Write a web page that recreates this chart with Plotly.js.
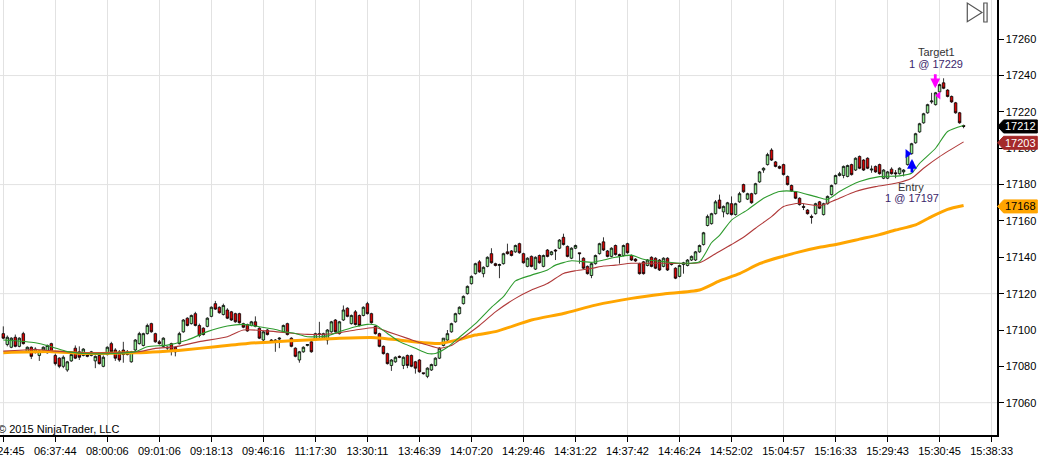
<!DOCTYPE html>
<html><head><meta charset="utf-8">
<script src="https://cdn.plot.ly/plotly-3.0.1.min.js"></script>
<style>html,body{margin:0;padding:0;background:#fff;overflow:hidden}#chart{width:1041px;height:459px}</style>
</head><body><div id="chart"></div>
<script>
// ---- Candles (bar index = position in arrays) ----
const opens = [17098,17092,17090.5,17096,17091,17098,17088,17090.5,17088,17086,
17089,17087.5,17092.5,17086,17084.5,17080,17078,17083,17090,17088,
17086,17086.5,17086,17083,17086,17080,17086.5,17092.5,17089,17088,
17089,17088,17082.5,17089,17092.5,17091.5,17098,17103.5,17098,17093.5,
17091,17090,17092.5,17090.5,17092.5,17099,17106.5,17103.5,17109,17102.5,
17101,17102,17107.5,17114.5,17112.5,17108.5,17111,17110,17109,17109,
17103.5,17103,17102.5,17104.5,17101,17094.5,17100,17094.5,17094.5,17095,
17099,17103.5,17095.5,17090,17083.5,17088,17091.5,17093.5,17094.5,17098,
17095.5,17094.5,17099,17105.5,17098,17105.5,17112,17103.5,17110,17108,
17108,17114.5,17109,17102,17098,17091,17087,17080.5,17082.5,17085.5,
17080.5,17086,17086,17082.5,17083.5,17076.5,17074.5,17078,17080.5,17084.5,
17091.5,17094.5,17099,17104.5,17109,17114.5,17120,17125.5,17131,17137.5,
17131,17135,17142,17136.5,17135.5,17136.5,17143,17143.5,17143,17147.5,
17142,17135,17140.5,17133.5,17141,17135,17144,17141.5,17144,17145,
17151,17146,17139.5,17145,17142.5,17139.5,17135,17130,17136.5,17142,
17148.5,17143.5,17140.5,17146.5,17141.5,17141,17147.5,17141,17139,17136.5,
17137.5,17135.5,17140,17139.5,17138.5,17135,17139.5,17136,17134,17129.5,
17136,17135.5,17138.5,17138.5,17143,17147,17157.5,17158.5,17164,17171.5,
17165,17164,17169.5,17163.5,17170.5,17180,17172,17175,17175,17181.5,
17188,17191,17199,17192.5,17190,17191,17184.5,17179.5,17176,17172.5,
17168,17166,17162.5,17164,17170.5,17163.5,17169.5,17174.5,17180.5,17185,
17185,17184.5,17191,17188,17195.5,17193.5,17194.5,17188,17190,17191,
17183.5,17183.5,17188.5,17186.5,17186,17187,17191,17197,17203,17209,
17214,17219.5,17225.5,17224,17231,17236,17232,17228.5,17225,17219.5,
17212.5];
const highs = [17102,17097,17096,17097.5,17096,17099,17091,17091,17090.5,17089,
17091,17092,17093,17087,17085,17086,17083,17087,17091.5,17091,
17090,17087,17088.5,17086,17087,17086,17091,17093.5,17090,17089,
17093.5,17089,17088.5,17095,17099,17098.5,17103.5,17104,17098.5,17094.5,
17096,17091,17093,17091,17099,17106,17107,17108.5,17110,17103.5,
17101.5,17107,17113,17116,17113,17114.5,17112,17110.5,17109.5,17109.5,
17104,17103.5,17105,17107.5,17101.5,17099.5,17100.5,17095,17095,17096,
17103,17104,17096,17090.5,17088.5,17091,17092,17094,17098.5,17104.5,
17098.5,17100.5,17105,17106,17105,17113.5,17112.5,17108.5,17111,17108.5,
17113,17115.5,17109.5,17102.5,17098.5,17091.5,17087.5,17084,17085.5,17086,
17085.5,17086.5,17086.5,17083,17084,17076.5,17079.5,17081.5,17085,17090.5,
17095.5,17100,17104,17109.5,17113,17119,17124.5,17130,17137,17138.5,
17135,17140.5,17145,17137,17136.5,17142.5,17147.5,17144,17147,17148,
17142.5,17140,17141,17140.5,17141.5,17141.5,17144.5,17143.5,17144.5,17150,
17153,17146.5,17145.5,17147,17142.5,17140,17135.5,17137,17141.5,17148,
17151,17144,17145.5,17147,17142,17147,17148,17141.5,17139.5,17137,
17138,17139,17140.5,17140,17139,17140,17140,17137,17134.5,17136,
17137.5,17139,17141,17143.5,17147,17154,17163.5,17164.5,17171.5,17174.5,
17168.5,17170.5,17173.5,17170,17176,17180.5,17175.5,17175.5,17181,17187.5,
17189.5,17197.5,17200,17193,17190.5,17191.5,17185,17180,17176.5,17173,
17169.5,17166.5,17163.5,17170,17171,17170,17174,17180,17185.5,17187,
17190.5,17191,17191.5,17195,17196,17194,17195,17190.5,17190.5,17191.5,
17188.5,17187.5,17189.5,17188,17189.5,17188.5,17198,17203,17208.5,17214,
17219.5,17224.5,17230.5,17231,17235.5,17238.5,17232.5,17229,17225.5,17220,
17213];
const lows = [17095,17091,17090,17090.5,17090.5,17092,17087.5,17084,17087,17083,
17088.5,17087,17087.5,17080.5,17079,17079,17077,17082.5,17084,17083.5,
17085.5,17085,17085.5,17079,17081,17079.5,17086,17087.5,17083,17082.5,
17082,17086,17082,17088.5,17092,17091,17097.5,17098.5,17093,17092,
17090.5,17089,17086,17085.5,17092,17098.5,17102,17103,17102,17096,
17097,17101.5,17107,17111,17109,17108,17106,17105,17104,17103.5,
17101,17099,17102,17101.5,17095,17094,17097,17093.5,17088,17090,
17098.5,17097,17090.5,17085,17082,17087.5,17091,17087.5,17094,17094.5,
17095,17092,17098.5,17098.5,17097.5,17105,17107,17103,17102.5,17102,
17107.5,17108.5,17103.5,17097.5,17090.5,17086.5,17081,17077.5,17082,17084.5,
17078.5,17079,17079.5,17076,17076.5,17075.5,17073.5,17077.5,17080,17084,
17091,17094,17098.5,17104,17108.5,17114,17119.5,17125,17130.5,17131.5,
17129,17134.5,17136.5,17135,17128.5,17136,17141.5,17140.5,17142.5,17142,
17136.5,17134.5,17134.5,17133,17136.5,17134.5,17140,17141,17138.5,17144.5,
17146.5,17140,17139,17144.5,17136.5,17133.5,17130.5,17128.5,17136,17141.5,
17143.5,17140,17140,17141,17136.5,17140.5,17142,17138,17137.5,17130.5,
17130.5,17135,17134.5,17133.5,17132.5,17134.5,17132.5,17135.5,17128,17129,
17131,17135,17138,17138,17142.5,17146.5,17157,17158,17163.5,17166.5,
17162,17163.5,17163,17163,17170,17175.5,17171.5,17169.5,17174.5,17181,
17186.5,17190.5,17193,17189.5,17188.5,17185,17179.5,17176,17172,17168.5,
17166,17163.5,17158.5,17163.5,17166.5,17163,17169,17174,17180,17184.5,
17183.5,17184,17185,17187.5,17188.5,17187.5,17188.5,17186.5,17186.5,17185.5,
17183,17183,17185.5,17183.5,17185.5,17184.5,17190.5,17196.5,17202.5,17208.5,
17213.5,17219,17224.5,17223.5,17230.5,17232.5,17228,17225,17219,17213.5,
17211];
const closes = [17095.5,17096,17095.5,17091,17095.5,17092.5,17090.5,17085.5,17089.5,17088.5,
17090.5,17091.5,17088,17081.5,17080,17085,17082.5,17086.5,17084.5,17085,
17089.5,17085.5,17088,17085.5,17081.5,17085,17090.5,17088,17084.5,17083.5,
17086.5,17086.5,17088,17094.5,17098,17098,17102.5,17099,17093.5,17092.5,
17095.5,17090.5,17088.5,17088,17098,17105.5,17102.5,17108,17102.5,17097,
17097.5,17106.5,17112.5,17111.5,17109.5,17113.5,17106.5,17105.5,17104.5,17104,
17101.5,17099.5,17104.5,17102,17095.5,17099,17097.5,17094,17094,17095.5,
17102.5,17097.5,17091,17085.5,17088,17090.5,17092,17088,17098,17097.5,
17098,17100,17104.5,17099,17104.5,17111,17107.5,17108,17103,17102.5,
17112.5,17109,17104,17098,17091,17087,17081.5,17083.5,17085,17085,
17085,17080.5,17080,17079,17077,17076,17079,17081,17084.5,17090,
17095.5,17098,17103.5,17109,17112.5,17118.5,17124,17129.5,17136.5,17132,
17134.5,17140,17137,17135.5,17136,17142,17142,17141,17146.5,17142.5,
17137,17139.5,17135,17140,17137,17141,17140.5,17143,17143.5,17149.5,
17147,17140.5,17145,17146.5,17142,17134,17131,17136.5,17141,17147.5,
17144,17140.5,17145,17141.5,17141,17146.5,17142.5,17138.5,17138,17131,
17131,17138.5,17135,17134,17133,17139.5,17133,17136.5,17128.5,17135.5,
17137,17138.5,17140.5,17143,17146.5,17153.5,17162.5,17164,17170.5,17167,
17168,17170,17163.5,17169.5,17175,17176,17175,17170,17180.5,17187,
17189,17196.5,17193.5,17190,17189,17185.5,17180,17176.5,17172.5,17169,
17167.5,17164,17162,17169.5,17167,17169.5,17173.5,17179.5,17185,17186,
17190,17190.5,17185.5,17194.5,17189,17188,17189,17188.5,17187,17186,
17188,17187,17186,17186,17189,17188,17196.5,17202.5,17208,17213.5,
17219,17224,17226,17230.5,17235,17233,17228.5,17225.5,17219.5,17214,
17212];

// ---- Moving averages (read at selected bars) ----
const fastBars = [0,8,12,16,20,28,33,36,41,46,51,56,60,64,68,70,73,76,81,84,88,91,93,96,99,103,106,108,111,114,118,122,125,128,132,136,138,142,145,147,150,153,157,160,165,170,174,177,179,182,186,190,194,198,203,206,209,214,219,224,227,229,233,236,240];
const fastVals = [17094.5,17093,17090.8,17088.1,17087.1,17087.1,17088.1,17090.8,17091.7,17094.5,17099.1,17102.2,17103.1,17101.8,17100.3,17099.1,17098.1,17096.3,17096.7,17099.1,17101.8,17103.1,17102.7,17098.1,17093.6,17089.9,17087.1,17087.1,17090.5,17096,17103.5,17112.5,17118.3,17127,17130.2,17133,17135.7,17138.1,17137.6,17137.2,17138.5,17140,17141.2,17138.9,17137.6,17136.7,17137.6,17148,17152,17160.5,17166.1,17172.5,17176.2,17176.2,17173.4,17171.9,17176.2,17181.7,17184.4,17184.8,17186.2,17191.7,17200,17209.2,17212.5];
const midBars = [0,8,13,20,28,34,38,43,49,56,60,68,76,83,88,93,96,101,106,109,112,115,119,123,128,132,136,140,143,147,150,153,157,165,174,178,182,185,188,192,195,199,204,208,213,218,223,227,230,234,240];
const midVals = [17088.4,17089.3,17088.4,17087.5,17087.5,17088.1,17089.9,17090.8,17093.6,17096.3,17100,17099.1,17097.6,17098.1,17100,17101.4,17099.1,17095.4,17091.7,17090,17091.5,17096,17102.5,17110,17117.4,17122,17125.6,17131.1,17132.6,17133.9,17135.2,17135.7,17136.7,17136.7,17137,17142,17147,17151,17156,17162.4,17167.9,17169.7,17168.3,17171.6,17176.2,17178.9,17180.7,17183.5,17189,17195.4,17203.5];
const slowBars = [0,12,20,33,39,45,53,61,68,76,84,93,99,105,109,113,118,123,132,140,148,157,165,174,179,184,189,194,199,204,209,214,219,223,228,232,236,240];
const slowVals = [17087.5,17088.1,17087.1,17087.5,17088.1,17089,17090.8,17092.6,17093.6,17094.5,17095.4,17095.8,17094.5,17093,17092.6,17094.3,17097.2,17099.1,17105.5,17109.1,17113.7,17117.4,17119.8,17122,17127,17131,17136.5,17140,17143,17145.5,17147.5,17150,17152.5,17155,17157.8,17162.4,17166.4,17168.5];

// ---- Axis labels ----
const timeLabels = ['06:24:45','06:37:44','08:00:06','09:01:06','09:18:13','09:46:16','11:17:30','13:30:11','13:46:39','14:07:20','14:29:46','14:31:22','14:37:42','14:46:24','14:52:02','15:04:57','15:16:33','15:29:43','15:30:45','15:38:33'];
const barsPerLabel = 13;
const yTickValues = [17060,17080,17100,17120,17140,17160,17180,17200,17220,17240,17260];
const yGridValues = [17060,17120,17180,17240];

// ---- Executions & price tags ----
const entryBar = 226, entryPrice = 17197, entryLabel = '1 @ 17197';
const exitBar = 233, exitMarkerBar = 233.75, exitPrice = 17229, exitLabel = '1 @ 17229';
const tagPrices = [17212, 17203, 17168];
const tagFills = ['#000000', '#A52A2A', '#FFA500'];
const tagTextColors = ['#ffffff', '#ffffff', '#000000'];

// ---- Layout geometry ----
const W = 1041, H = 459, mL = 0, mR = 44.3, mT = 0, mB = 24;
const plotW = W - mL - mR, plotH = H - mT - mB;
const xRange = [-0.825, 248.35];
const yRange = [17042.23, 17281.57];
const pxPerPt = plotH / (yRange[1] - yRange[0]);
const px = v => v / plotW;
const py = v => 1 - v / plotH;
const FONT = 'Liberation Sans, Arial, sans-serif';

const bars = opens.map((_, i) => i);

const traces = [
  {type:'candlestick', x:bars, open:opens, high:highs, low:lows, close:closes,
   increasing:{fillcolor:'#90EE90', line:{color:'#000', width:0.8}},
   decreasing:{fillcolor:'#D80000', line:{color:'#000', width:0.8}},
   whiskerwidth:0, hoverinfo:'skip', showlegend:false},
  {type:'scatter', mode:'lines', x:slowBars, y:slowVals, line:{color:'#FFA500', width:3, shape:'spline', smoothing:0.6}, hoverinfo:'skip'},
  {type:'scatter', mode:'lines', x:midBars, y:midVals, line:{color:'#B03A3A', width:1.1, shape:'spline', smoothing:0.6}, hoverinfo:'skip'},
  {type:'scatter', mode:'lines', x:fastBars, y:fastVals, line:{color:'#2E9B2E', width:1.1, shape:'spline', smoothing:0.6}, hoverinfo:'skip'},
  {type:'scatter', mode:'markers', x:[entryBar], y:[entryPrice], marker:{symbol:'triangle-right', size:8, color:'#0000FF'}, hoverinfo:'skip'},
  {type:'scatter', mode:'markers', x:[exitMarkerBar], y:[exitPrice], marker:{symbol:'triangle-left', size:7, color:'#FF00FF'}, hoverinfo:'skip'}
];

const shapes = [];
yGridValues.forEach(v => shapes.push({type:'line', xref:'paper', yref:'y', x0:0, x1:1, y0:v, y1:v, line:{color:'#e2e2e2', width:1}, layer:'below'}));
const hh = 6.5 / pxPerPt;
tagPrices.forEach((p, k) => {
  const tip = px(997.3), b0 = px(1003.3), b1 = px(1037);
  shapes.push({type:'path', xref:'paper', yref:'y', layer:'above',
    path:`M ${tip},${p} L ${b0},${p+hh} L ${b1},${p+hh} L ${b1},${p-hh} L ${b0},${p-hh} Z`,
    fillcolor:tagFills[k], line:{color:tagFills[k], width:1}});
});
// top-right "go to end" icon
shapes.push({type:'path', xref:'paper', yref:'paper', layer:'above',
  path:`M ${px(967)},${py(3)} L ${px(967)},${py(21.7)} L ${px(981.7)},${py(12.4)} Z`,
  line:{color:'#555', width:1.2}, fillcolor:'rgba(0,0,0,0)'});
shapes.push({type:'rect', xref:'paper', yref:'paper', layer:'above',
  x0:px(983.5), x1:px(986.8), y0:py(3), y1:py(22), line:{color:'#555', width:1.2}});

const annotations = [];
tagPrices.forEach((p, k) => annotations.push({xref:'paper', yref:'y', x:px(1020.5), y:p, text:String(p), showarrow:false, xanchor:'center', yanchor:'middle', font:{family:FONT, size:11, color:tagTextColors[k]}}));
const nameColor = '#333333', qtyColor = '#3b1f6b';
annotations.push({x:exitBar, y:exitPrice, xref:'x', yref:'y', text:'Target1', showarrow:false, xanchor:'center', yanchor:'middle', xshift:1.2, yshift:43.5, font:{family:FONT, size:11, color:nameColor}});
annotations.push({x:exitBar, y:exitPrice, xref:'x', yref:'y', text:exitLabel, showarrow:false, xanchor:'center', yanchor:'middle', xshift:0.7, yshift:31.5, font:{family:FONT, size:11, color:qtyColor}});
annotations.push({x:entryBar, y:entryPrice, xref:'x', yref:'y', text:'Entry', showarrow:false, xanchor:'center', yanchor:'middle', xshift:3.5, yshift:-33, font:{family:FONT, size:11, color:nameColor}});
annotations.push({x:entryBar, y:entryPrice, xref:'x', yref:'y', text:entryLabel, showarrow:false, xanchor:'center', yanchor:'middle', xshift:4.4, yshift:-44, font:{family:FONT, size:11, color:qtyColor}});
// execution arrows
annotations.push({x:exitBar, y:exitPrice, xref:'x', yref:'y', text:'', showarrow:true, arrowhead:2, arrowsize:0.7, arrowwidth:2.8, arrowcolor:'#FF00FF', ax:0, ay:-15.5, xshift:-0.3, yshift:7.2, standoff:0});
annotations.push({x:entryBar, y:entryPrice, xref:'x', yref:'y', text:'', showarrow:true, arrowhead:2, arrowsize:0.7, arrowwidth:2.8, arrowcolor:'#0000FF', ax:0, ay:15, xshift:4.4, yshift:-5.3, standoff:0});
// copyright
annotations.push({xref:'paper', yref:'paper', x:px(-4), y:py(429), text:'© 2015 NinjaTrader, LLC', showarrow:false, xanchor:'left', yanchor:'middle', font:{family:FONT, size:11, color:'#000'}});

const layout = {
  width:W, height:H, margin:{l:mL, r:mR, t:mT, b:mB, pad:0},
  paper_bgcolor:'#fff', plot_bgcolor:'#fff', showlegend:false, hovermode:false, dragmode:false,
  boxgap:0.1,
  xaxis:{range:xRange, tickmode:'array', tickvals:timeLabels.map((_, k) => k * barsPerLabel), ticktext:timeLabels,
    showgrid:true, gridcolor:'#e2e2e2', gridwidth:1, zeroline:false,
    ticks:'outside', ticklen:5, tickwidth:1, tickcolor:'#000',
    showline:true, linecolor:'#000', linewidth:1.5, mirror:false, ticklabeloverflow:'allow',
    tickfont:{family:FONT, size:11, color:'#000'}, tickangle:0,
    rangeslider:{visible:false}, fixedrange:true, automargin:false},
  yaxis:{range:yRange, side:'right', tickmode:'array', tickvals:yTickValues, ticktext:yTickValues.map(String),
    showgrid:false, zeroline:false, ticks:'outside', ticklen:5, tickwidth:1, tickcolor:'#000',
    showline:true, linecolor:'#000', linewidth:1.5,
    tickfont:{family:FONT, size:11, color:'#000'}, fixedrange:true, automargin:false},
  shapes, annotations
};

Plotly.newPlot('chart', traces, layout, {staticPlot:true, displayModeBar:false});
</script>
</body></html>
